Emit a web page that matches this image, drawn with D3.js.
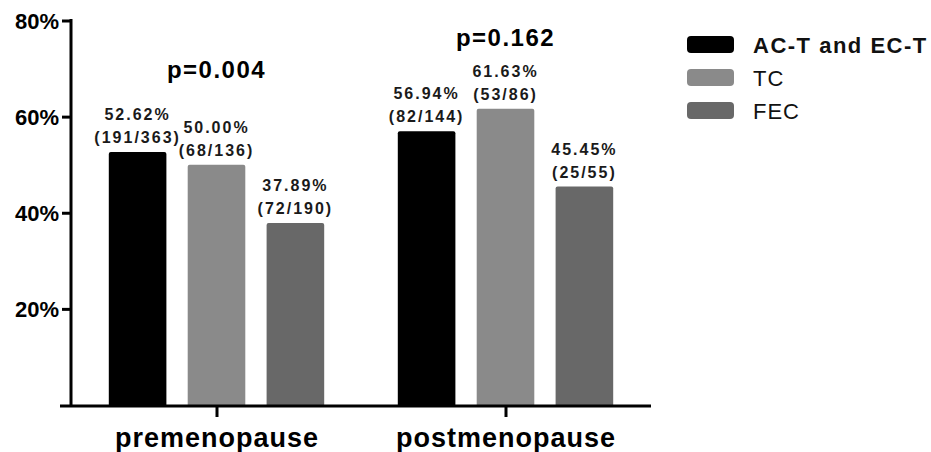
<!DOCTYPE html>
<html>
<head>
<meta charset="utf-8">
<script src="https://cdn.jsdelivr.net/npm/d3@7"></script>
<style>
    body { margin: 0; background: #fff; }
    text { font-family: "Liberation Sans", Arial, sans-serif; }
</style>
</head>
<body>
<script>
// data
var groups = ["premenopause", "postmenopause"];
var regimens = ["AC-T and EC-T", "TC", "FEC"];
var rates = [[52.62, 50.00, 37.89], [56.94, 61.63, 45.45]];
var counts = [["(191/363)", "(68/136)", "(72/190)"], ["(82/144)", "(53/86)", "(25/55)"]];
var pValues = ["p=0.004", "p=0.162"];
var pValueLevel = [68.0, 74.7];
var yTicks = [20, 40, 60, 80];
var colors = ["#000000", "#8a8a8a", "#686868"];

var width = 931;
var height = 452;

var svg = d3.select("body")
    .append("svg")
        .attr("width", width)
        .attr("height", height);

var x0 = d3.scalePoint().domain(groups).range([72, 650]).padding(0.5);
var x1 = d3.scaleBand().domain(regimens).range([-107.7, 107.7]).paddingInner(0.27);
var y = d3.scaleLinear().domain([0, 80]).range([405, 20.5]);

// bars
groups.forEach((grp, gi) => {
    var g = svg.append("g")
        .attr("transform", "translate(" + x0(grp) + ",0)");

    g.selectAll("rect")
        .data(regimens)
        .enter().append("rect")
            .attr("x", (d) => x1(d))
            .attr("y", (d, i) => y(rates[gi][i]))
            .attr("width", x1.bandwidth())
            .attr("height", (d, i) => y(0) - y(rates[gi][i]) + 2)
            .attr("rx", 2)
            .attr("fill", (d, i) => colors[i]);

    g.selectAll(".pct")
        .data(regimens)
        .enter().append("text")
            .attr("class", "pct")
            .attr("x", (d) => x1(d) + x1.bandwidth() / 2)
            .attr("y", (d, i) => y(rates[gi][i]) - 32)
            .attr("text-anchor", "middle")
            .attr("font-size", "16px")
            .attr("font-weight", "bold")
            .attr("letter-spacing", "2px")
            .attr("fill", "#1a1a1a")
            .text((d, i) => rates[gi][i].toFixed(2) + "%");

    g.selectAll(".cnt")
        .data(regimens)
        .enter().append("text")
            .attr("class", "cnt")
            .attr("x", (d) => x1(d) + x1.bandwidth() / 2)
            .attr("y", (d, i) => y(rates[gi][i]) - 9)
            .attr("text-anchor", "middle")
            .attr("font-size", "16px")
            .attr("font-weight", "bold")
            .attr("letter-spacing", "2px")
            .attr("fill", "#1a1a1a")
            .text((d, i) => counts[gi][i]);

    g.append("text")
        .attr("x", 0)
        .attr("y", y(pValueLevel[gi]))
        .attr("text-anchor", "middle")
        .attr("font-size", "24px")
        .attr("font-weight", "bold")
        .attr("letter-spacing", "1.5px")
        .text(pValues[gi]);
});

// y axis
var yAxis = d3.axisLeft(y)
    .tickValues(yTicks)
    .tickFormat((d) => d + "%")
    .tickSize(9)
    .tickSizeOuter(0)
    .tickPadding(3);

var yAxisGroup = svg.append("g")
    .attr("transform", "translate(71,0)")
    .call(yAxis);
yAxisGroup.select(".domain").remove();
yAxisGroup.append("line")
    .attr("x1", 0).attr("x2", 0)
    .attr("y1", y(80) - 1.5).attr("y2", y(0) + 1.5)
    .attr("stroke", "#000")
    .attr("stroke-width", 3);
yAxisGroup.selectAll(".tick line").attr("stroke-width", 3);
yAxisGroup.selectAll(".tick text")
    .attr("font-size", "22px")
    .attr("font-weight", "bold")
    .attr("fill", "#000")
    .attr("dy", "0.35em");

// x axis
var xAxisGroup = svg.append("g")
    .attr("transform", "translate(0," + (y(0) + 1) + ")")
    .call(d3.axisBottom(x0).tickSize(11).tickSizeOuter(0).tickPadding(10));
xAxisGroup.select(".domain").remove();
xAxisGroup.append("line")
    .attr("x1", 60).attr("x2", 651)
    .attr("stroke", "#000")
    .attr("stroke-width", 3);
xAxisGroup.selectAll(".tick line").attr("stroke-width", 3);
xAxisGroup.selectAll(".tick text")
    .attr("font-size", "27px")
    .attr("font-weight", "bold")
    .attr("letter-spacing", "1px")
    .attr("fill", "#000")
    .attr("dy", "0.75em");

// legend
var legend = svg.append("g")
    .attr("transform", "translate(687,36)");

legend.selectAll("rect")
    .data(regimens)
    .enter().append("rect")
        .attr("x", 0)
        .attr("y", (d, i) => i * 33)
        .attr("width", 47)
        .attr("height", 17)
        .attr("rx", 4)
        .attr("fill", (d, i) => colors[i]);

legend.selectAll("text")
    .data(regimens)
    .enter().append("text")
        .attr("x", 66)
        .attr("y", (d, i) => i * 33 + 17)
        .attr("font-size", "22px")
        .attr("font-weight", (d, i) => i == 0 ? "bold" : "normal")
        .attr("letter-spacing", (d, i) => i == 0 ? "1.5px" : "1px")
        .attr("fill", "#111")
        .text((d) => d);
</script>
</body>
</html>
